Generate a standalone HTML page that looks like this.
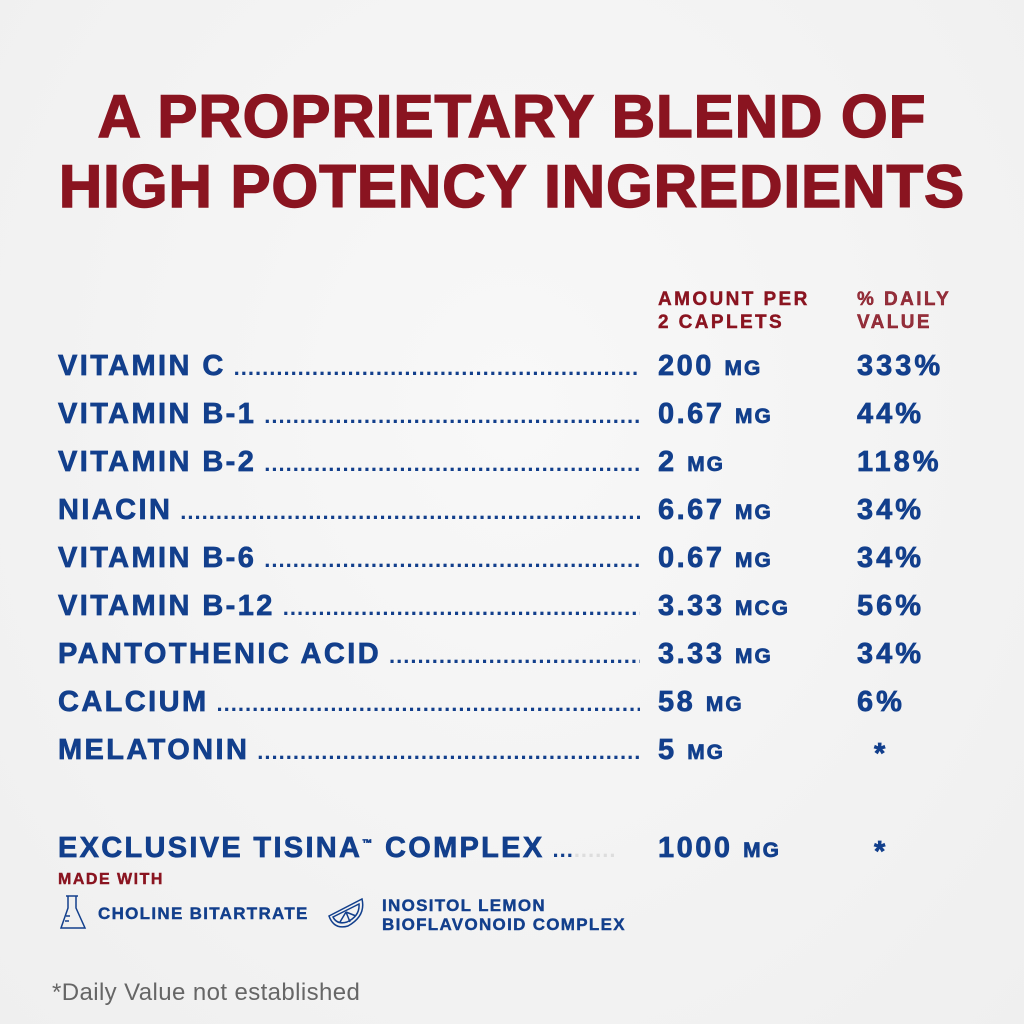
<!DOCTYPE html>
<html><head><style>
body{margin:0;width:1024px;height:1024px;background:radial-gradient(ellipse at 50% 40%,#f8f8f8,#efefef);font-family:"Liberation Sans",sans-serif;position:relative;overflow:hidden}
.t{position:absolute;left:0;width:1024px;text-align:center;color:#8a1420;font-weight:bold;font-size:60px;letter-spacing:1px;line-height:1;-webkit-text-stroke:1.5px #8a1420}
.row{position:absolute;left:58px;width:582px;display:flex;align-items:baseline;color:#123f8c;font-weight:bold;font-size:29px;letter-spacing:2.4px;line-height:1;height:32px;-webkit-text-stroke:0.7px #123f8c}
.lead{flex:1;overflow:hidden;white-space:nowrap;margin-left:8px;font-size:22px;letter-spacing:1px;-webkit-text-stroke:0}
.v{position:absolute;left:658px;color:#123f8c;font-weight:bold;font-size:29px;letter-spacing:2.5px;line-height:1;-webkit-text-stroke:0.7px #123f8c}
.v small{font-size:21px;letter-spacing:2px}
.p{position:absolute;left:857px;color:#123f8c;font-weight:bold;font-size:29px;letter-spacing:3px;line-height:1;-webkit-text-stroke:0.7px #123f8c}
.h{position:absolute;color:#8a1420;font-weight:bold;font-size:19px;letter-spacing:2.4px;line-height:23px;-webkit-text-stroke:0.4px #8a1420}
</style></head><body>
<div class="t" style="top:87px">A PROPRIETARY BLEND OF</div>
<div class="t" style="top:157px">HIGH POTENCY INGREDIENTS</div>
<div class="h" style="left:658px;top:288px">AMOUNT PER<br>2 CAPLETS</div>
<div class="h" style="left:857px;top:288px;color:#93303c">% DAILY<br>VALUE</div>

<div class="row" style="top:352px"><span>VITAMIN C</span><span class="lead">..........................................................................................</span></div>
<div class="v" style="top:352px">200 <small>MG</small></div><div class="p" style="top:352px">333%</div>
<div class="row" style="top:400px"><span>VITAMIN B-1</span><span class="lead">..........................................................................................</span></div>
<div class="v" style="top:400px">0.67 <small>MG</small></div><div class="p" style="top:400px">44%</div>
<div class="row" style="top:448px"><span>VITAMIN B-2</span><span class="lead">..........................................................................................</span></div>
<div class="v" style="top:448px">2 <small>MG</small></div><div class="p" style="top:448px">118%</div>
<div class="row" style="top:496px"><span>NIACIN</span><span class="lead">..........................................................................................</span></div>
<div class="v" style="top:496px">6.67 <small>MG</small></div><div class="p" style="top:496px">34%</div>
<div class="row" style="top:544px"><span>VITAMIN B-6</span><span class="lead">..........................................................................................</span></div>
<div class="v" style="top:544px">0.67 <small>MG</small></div><div class="p" style="top:544px">34%</div>
<div class="row" style="top:592px"><span>VITAMIN B-12</span><span class="lead">..........................................................................................</span></div>
<div class="v" style="top:592px">3.33 <small>MCG</small></div><div class="p" style="top:592px">56%</div>
<div class="row" style="top:640px"><span>PANTOTHENIC ACID</span><span class="lead">..........................................................................................</span></div>
<div class="v" style="top:640px">3.33 <small>MG</small></div><div class="p" style="top:640px">34%</div>
<div class="row" style="top:688px"><span>CALCIUM</span><span class="lead">..........................................................................................</span></div>
<div class="v" style="top:688px">58 <small>MG</small></div><div class="p" style="top:688px">6%</div>
<div class="row" style="top:736px"><span>MELATONIN</span><span class="lead">..........................................................................................</span></div>
<div class="v" style="top:736px">5 <small>MG</small></div><div class="p" style="top:740px;left:874px">*</div>

<div class="row" style="top:834px;letter-spacing:2.3px"><span>EXCLUSIVE TISINA<sup style="font-size:10px">™</sup> COMPLEX</span><span class="lead">...<span style="color:#ddd">......</span></span></div>
<div class="v" style="top:834px">1000 <small>MG</small></div><div class="p" style="top:838px;left:874px">*</div>

<div class="h" style="left:58px;top:868px;font-size:16px;letter-spacing:1.5px">MADE WITH</div>
<svg style="position:absolute;left:58px;top:894px" width="32" height="38" viewBox="0 0 32 38" fill="none" stroke="#123f8c" stroke-width="1.5"><path d="M8 2h12M10 2v12L3 34h24L18 14V2M8 22h4M7 27h4"/></svg>
<div style="position:absolute;left:98px;top:904px;color:#123f8c;font-weight:bold;font-size:17px;letter-spacing:1.3px;-webkit-text-stroke:0.4px #123f8c">CHOLINE BITARTRATE</div>
<svg style="position:absolute;left:326px;top:896px" width="40" height="36" viewBox="0 0 40 36" fill="none" stroke="#123f8c" stroke-width="1.5"><path d="M3 20L36 3Q40 20 22 30Q8 34 3 20Z M7 21L33 8Q34 20 21 26Q11 29 7 21Z M20 16L14 26M20 16L24 26M20 16L30 20"/></svg>
<div style="position:absolute;left:382px;top:896px;color:#123f8c;font-weight:bold;font-size:17px;letter-spacing:1.3px;line-height:19px;-webkit-text-stroke:0.4px #123f8c">INOSITOL LEMON<br>BIOFLAVONOID COMPLEX</div>
<div style="position:absolute;left:52px;top:979px;color:#666;font-size:24px;letter-spacing:0.4px">*Daily Value not established</div>
</body></html>
